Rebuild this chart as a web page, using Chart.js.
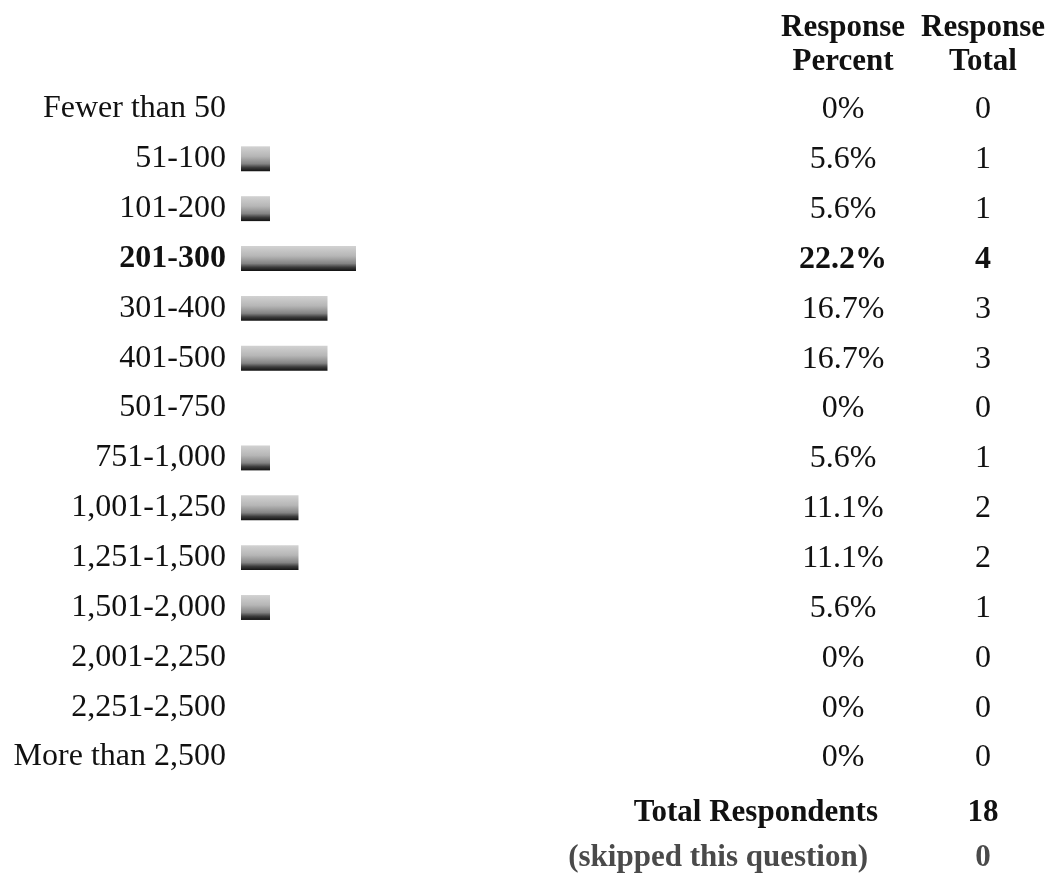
<!DOCTYPE html>
<html>
<head>
<meta charset="utf-8">
<script src="https://cdn.jsdelivr.net/npm/chart.js@4.4.1/dist/chart.umd.min.js"></script>
<style>
  html, body { margin: 0; padding: 0; background: #fff; }
  canvas { display: block; }
</style>
</head>
<body>
<canvas id="responseChart" width="1061" height="878"></canvas>
<script>
// Answer options, top to bottom
const categories = [
  'Fewer than 50', '51-100', '101-200', '201-300', '301-400', '401-500',
  '501-750', '751-1,000', '1,001-1,250', '1,251-1,500', '1,501-2,000',
  '2,001-2,250', '2,251-2,500', 'More than 2,500'
];
// Response Percent column (also the bar lengths)
const responsePercent = [0, 5.6, 5.6, 22.2, 16.7, 16.7, 0, 5.6, 11.1, 11.1, 5.6, 0, 0, 0];
// Response Total column
const responseTotal = [0, 1, 1, 4, 3, 3, 0, 1, 2, 2, 1, 0, 0, 0];
const totalRespondents = 18;
const skippedQuestion = 0;
const boldRow = 3; // the most frequent answer is printed in bold

const FONT = '"Liberation Serif", "Times New Roman", serif';
const PCT_X = 843;
const TOTAL_X = 983;

// grey "3d" look of the old survey bars
function barGradient(context) {
  const chart = context.chart;
  if (!chart.chartArea || !chart.scales.y) return '#999';
  const yc = chart.scales.y.getPixelForValue(context.dataIndex);
  const g = chart.ctx.createLinearGradient(0, yc - 12.5, 0, yc + 12.5);
  g.addColorStop(0, '#d2d2d2');
  g.addColorStop(0.4, '#b6b6b6');
  g.addColorStop(0.7, '#848484');
  g.addColorStop(0.85, '#3c3c3c');
  g.addColorStop(1, '#111');
  return g;
}

// draws the header, the two text columns and the totals
const tableColumns = {
  id: 'tableColumns',
  afterDatasetsDraw(chart) {
    const ctx = chart.ctx;
    const y = chart.scales.y;
    ctx.save();
    ctx.fillStyle = '#111';
    ctx.textBaseline = 'middle';
    ctx.textAlign = 'center';

    ctx.font = 'bold 31px ' + FONT;
    ctx.fillText('Response', PCT_X, 28);
    ctx.fillText('Percent', PCT_X, 62);
    ctx.fillText('Response', TOTAL_X, 28);
    ctx.fillText('Total', TOTAL_X, 62);

    categories.forEach((c, i) => {
      const py = y.getPixelForValue(i) + 1;
      ctx.font = (i === boldRow ? 'bold ' : '') + '32px ' + FONT;
      ctx.fillText(responsePercent[i] + '%', PCT_X, py);
      ctx.fillText(String(responseTotal[i]), TOTAL_X, py);
    });

    ctx.font = 'bold 31px ' + FONT;
    ctx.textAlign = 'right';
    ctx.fillText('Total Respondents', 878, 813);
    ctx.textAlign = 'center';
    ctx.fillText(String(totalRespondents), TOTAL_X, 813);

    ctx.fillStyle = '#4a4a4a';
    ctx.textAlign = 'right';
    ctx.fillText('(skipped this question)', 868, 858);
    ctx.textAlign = 'center';
    ctx.fillText(String(skippedQuestion), TOTAL_X, 858);
    ctx.restore();
  }
};

new Chart(document.getElementById('responseChart'), {
  type: 'bar',
  data: {
    labels: categories,
    datasets: [{
      data: responsePercent,
      backgroundColor: barGradient,
      borderWidth: 0,
      categoryPercentage: 1,
      barPercentage: 0.5
    }]
  },
  options: {
    indexAxis: 'y',
    responsive: false,
    animation: false,
    devicePixelRatio: 1,
    layout: { padding: { top: 84, bottom: 96, left: 0, right: 302 } },
    plugins: { legend: { display: false }, tooltip: { enabled: false } },
    scales: {
      x: { display: false, min: 0, max: 100 },
      y: {
        grid: { display: false },
        border: { display: false },
        afterFit: (scale) => { scale.width = 241; },
        ticks: {
          padding: 7,
          color: '#111',
          font: (ctx) => ({ family: FONT, size: 32, weight: ctx.index === boldRow ? 'bold' : 'normal' })
        }
      }
    }
  },
  plugins: [tableColumns]
});
</script>
</body>
</html>
